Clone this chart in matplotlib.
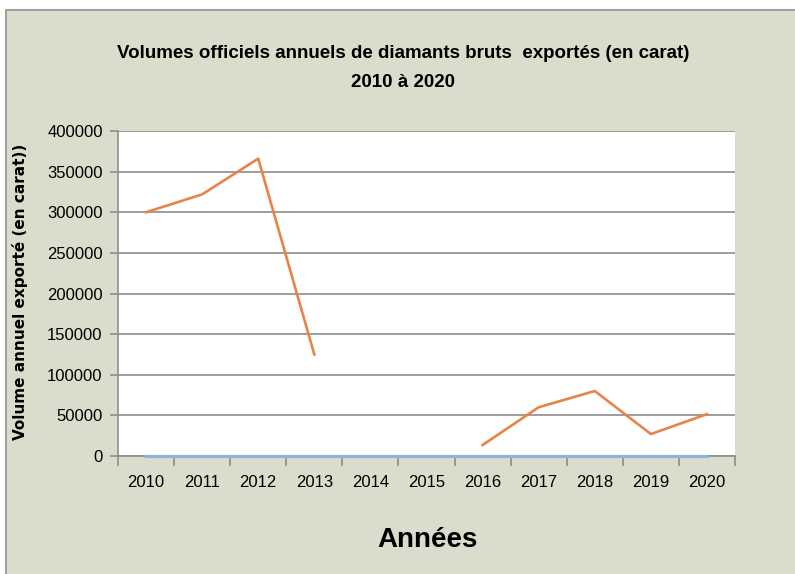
import numpy as np
import matplotlib
matplotlib.use("Agg")
import matplotlib.pyplot as plt
from matplotlib.patches import Rectangle

# data
years = ["2010", "2011", "2012", "2013", "2014", "2015",
         "2016", "2017", "2018", "2019", "2020"]
volumes = [300000, 322000, 366000, 125000, np.nan, np.nan,
           13500, 60000, 80000, 27000, 51500]
baseline = [0, 0, 0, 0, 0, 0, 0, 0, 0, 0, 0]
yticks = [0, 50000, 100000, 150000, 200000, 250000, 300000, 350000, 400000]

title = "Volumes officiels annuels de diamants bruts  exportés (en carat)\n2010 à 2020"
ylabel = "Volume annuel exporté (en carat))"
xlabel = "Années"

bg = "#dbddcc"
grid_col = "#8c8c8c"

fig = plt.figure(figsize=(7.95, 5.74), dpi=100)
fig.patch.set_facecolor("white")
fig.patches.append(Rectangle((6 / 795, -0.05), 1.1, 1 - 10 / 574 + 0.05,
                             transform=fig.transFigure, facecolor=bg,
                             edgecolor="#a0a0a0", linewidth=1.5, zorder=-10))

ax = fig.add_axes([118 / 795, 1 - 456 / 574, 617 / 795, 325 / 574])
ax.set_facecolor("white")

x = np.arange(len(years))
ax.plot(x, volumes, color="#e8834a", linewidth=1.9, zorder=4)
ax.plot(x, baseline, color="#8fb3dc", linewidth=2.3, zorder=5, clip_on=False)

ax.set_xlim(-0.5, len(years) - 0.5)
ax.set_ylim(0, 400000)
ax.set_yticks(yticks)
ax.set_yticklabels([str(v) for v in yticks], fontsize=12, family="Liberation Sans")
ax.set_xticks(x)
ax.set_xticklabels(years, fontsize=12, family="Liberation Sans")
ax.set_xticks(np.arange(-0.5, len(years)), minor=True)
ax.tick_params(axis="x", which="major", length=0, pad=14)
ax.tick_params(axis="x", which="minor", length=7, color=grid_col, width=1.2)
ax.tick_params(axis="y", length=6, color=grid_col, width=1.2, pad=5)

ax.grid(axis="y", color=grid_col, linewidth=1.2)
ax.set_axisbelow(True)
for s in ["top", "right"]:
    ax.spines[s].set_visible(False)
for s in ["left", "bottom"]:
    ax.spines[s].set_color(grid_col)
    ax.spines[s].set_linewidth(1.2)

fig.text(403 / 795, 1 - 68 / 574, title, ha="center", va="center",
         fontsize=13.5, fontweight="bold", family="Liberation Sans",
         linespacing=1.9)
fig.text(20 / 795, 1 - 292 / 574, ylabel, rotation=90, ha="center", va="center",
         fontsize=11, fontweight="bold", family="DejaVu Sans")
fig.text(427 / 795, 1 - 540 / 574, xlabel, ha="center", va="center",
         fontsize=20, fontweight="bold", family="Liberation Sans")

fig.savefig("out.png", dpi=100, facecolor=fig.get_facecolor())
